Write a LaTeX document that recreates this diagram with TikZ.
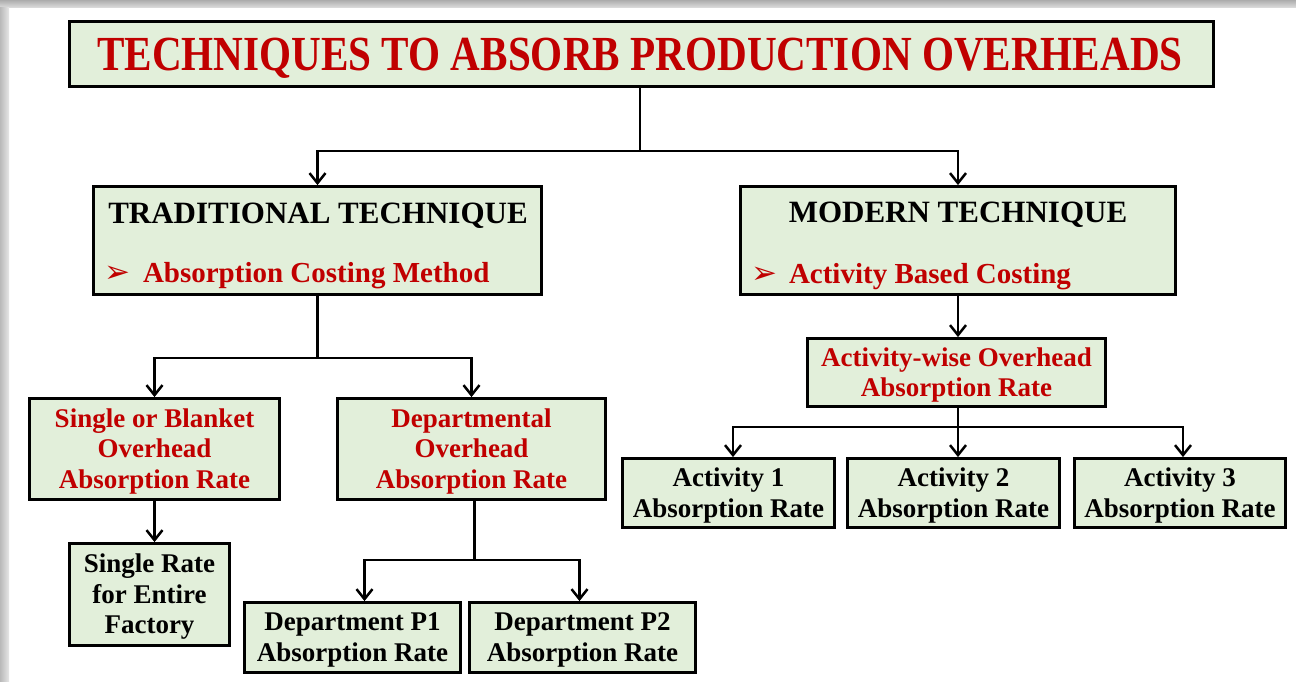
\documentclass[tikz,border=0pt]{standalone}
\usepackage{fontspec}
\setmainfont{Liberation Serif}
\newfontfamily\titlefont{Liberation Serif}[FakeStretch=0.84]
\newfontfamily\symfont{DejaVu Sans}
\usetikzlibrary{arrows.meta,calc}
\definecolor{boxfill}{HTML}{E2EFDA}
\definecolor{redtxt}{HTML}{C00000}
\tikzset{
  box/.style={draw=black, line width=2.8pt, fill=boxfill, inner sep=0pt},
  txt/.style={inner sep=0pt, outer sep=0pt, align=center,
    font=\bfseries\fontsize{27}{30.5}\selectfont},
  redtxtstyle/.style={txt, text=redtxt},
  conn/.style={draw=black, line width=2.5pt},
  arr/.style={conn, -{Straight Barb[length=10pt,width=16pt,line width=2.5pt]}},
  plain/.style={inner sep=0pt, outer sep=0pt},
  bullet/.style={plain, anchor=base west, text=redtxt, font=\symfont\fontsize{31}{31}\selectfont},
}
\begin{document}
\begin{tikzpicture}[x=1pt,y=-1pt]
\path[use as bounding box, fill=white] (0,0) rectangle (1296,682);
\shade[top color=gray!65, bottom color=gray!25] (0,0) rectangle (1296,8);
\shade[left color=gray!55, right color=gray!20] (0,8) rectangle (9,682);

% title
\node[box, minimum width=1144pt, minimum height=65pt] (title) at (641.5,54) {};
\node[plain, anchor=base, text=redtxt, font=\titlefont\bfseries\fontsize{49}{49}\selectfont] (titlet) at (640,71) {TECHNIQUES TO ABSORB PRODUCTION OVERHEADS};

% level 1
\node[box, minimum width=448pt, minimum height=108pt] (trad) at (317.5,240.5) {};
\node[plain, anchor=base, font=\bfseries\fontsize{31}{31}\selectfont] (tradh) at (318,223) {TRADITIONAL TECHNIQUE};
\node[bullet] (tradb) at (104,282) {➢};
\node[plain, anchor=base west, text=redtxt, font=\bfseries\fontsize{29}{29}\selectfont] (trads) at (143,282) {Absorption Costing Method};

\node[box, minimum width=435pt, minimum height=108pt] (modern) at (958,240.5) {};
\node[plain, anchor=base, font=\bfseries\fontsize{31}{31}\selectfont] (modh) at (958,222) {MODERN TECHNIQUE};
\node[bullet] (modb) at (751,283) {➢};
\node[plain, anchor=base west, text=redtxt, font=\bfseries\fontsize{29}{29}\selectfont] (mods) at (789,283) {Activity Based Costing};

% level 2
\node[box, minimum width=250pt, minimum height=101pt] (single) at (154.5,449) {};
\node[redtxtstyle] (singlet) at ([yshift=-2.5pt]single.center) {Single or Blanket\\Overhead\\Absorption Rate};
\node[box, minimum width=268pt, minimum height=101pt] (dept) at (471.5,449) {};
\node[redtxtstyle] (deptt) at ([yshift=-2.5pt]dept.center) {Departmental\\Overhead\\Absorption Rate};
\node[box, minimum width=298pt, minimum height=68pt] (aw) at (956.5,372.5) {};
\node[redtxtstyle] (awt) at ([yshift=-2.5pt]aw.center) {Activity-wise Overhead\\Absorption Rate};

% level 3
\node[box, minimum width=160pt, minimum height=102pt] (srate) at (149.5,594.5) {};
\node[txt] (sratet) at ([yshift=-2.5pt]srate.center) {Single Rate\\for Entire\\Factory};
\node[box, minimum width=216pt, minimum height=70pt] (p1) at (352.5,637.5) {};
\node[txt] (p1t) at ([yshift=-2.5pt]p1.center) {Department P1\\Absorption Rate};
\node[box, minimum width=226pt, minimum height=70pt] (p2) at (582.5,637.5) {};
\node[txt] (p2t) at ([yshift=-2.5pt]p2.center) {Department P2\\Absorption Rate};
\node[box, minimum width=212pt, minimum height=69pt] (a1) at (728.5,493) {};
\node[txt] (a1t) at ([yshift=-2.5pt]a1.center) {Activity 1\\Absorption Rate};
\node[box, minimum width=212pt, minimum height=69pt] (a2) at (953.5,493) {};
\node[txt] (a2t) at ([yshift=-2.5pt]a2.center) {Activity 2\\Absorption Rate};
\node[box, minimum width=211pt, minimum height=69pt] (a3) at (1180,493) {};
\node[txt] (a3t) at ([yshift=-2.5pt]a3.center) {Activity 3\\Absorption Rate};

% connectors
\draw[conn] ([xshift=-1.5pt]title.south) -- ++(0,63) coordinate (tj);
\draw[arr] (tj) -| (trad.north);
\draw[arr] (tj) -| (modern.north);

\draw[conn] (trad.south) -- ++(0,62) coordinate (trj);
\draw[arr] (trj) -| (single.north);
\draw[arr] (trj) -| (dept.north);

\draw[arr] (single.south) -- (single.south |- srate.north);

\draw[conn] ([xshift=3pt]dept.south) -- ++(0,59) coordinate (dj);
\draw[arr] (dj) -| ([xshift=12pt]p1.north);
\draw[arr] (dj) -| ([xshift=-3pt]p2.north);

\draw[arr] (modern.south) -- (modern.south |- aw.north);

\draw[conn] ([xshift=1.5pt]aw.south) -- ++(0,19) coordinate (aj);
\draw[arr] (aj) -| ([xshift=4.5pt]a1.north);
\draw[arr] (aj) -| ([xshift=4.5pt]a2.north);
\draw[arr] (aj) -| ([xshift=3pt]a3.north);
\end{tikzpicture}
\end{document}
